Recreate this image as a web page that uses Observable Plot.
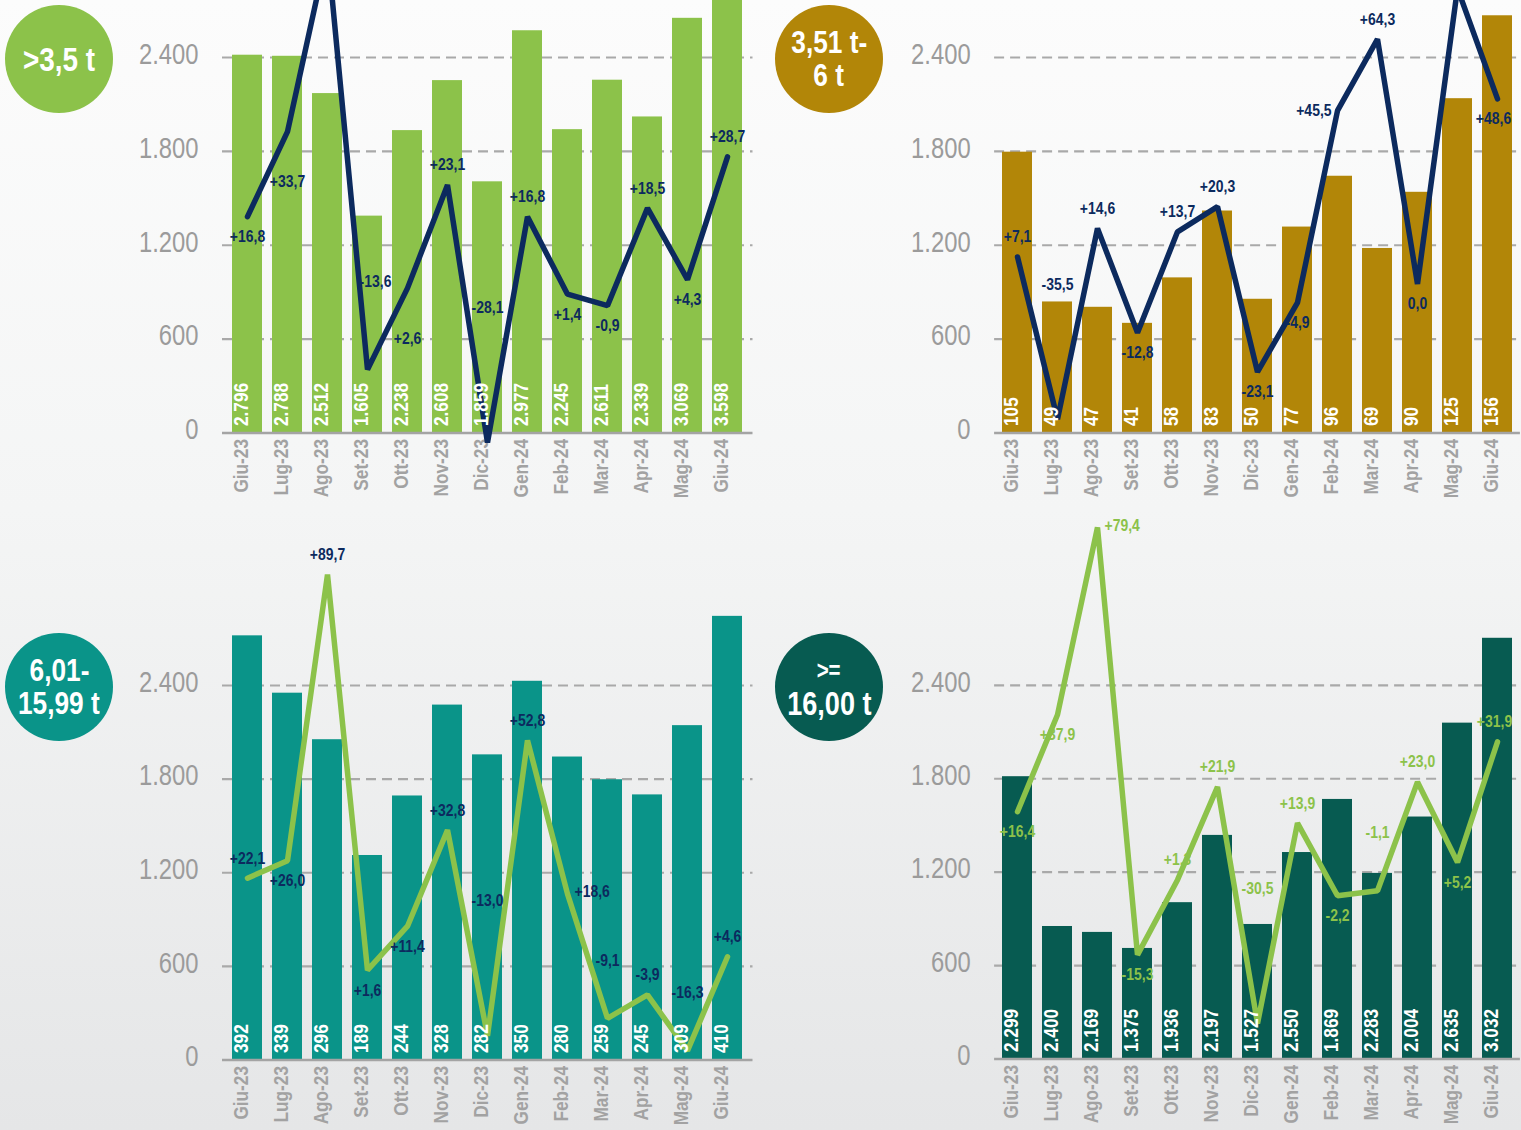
<!DOCTYPE html>
<html><head><meta charset="utf-8">
<script src="https://cdn.jsdelivr.net/npm/d3@7"></script>
<script src="https://cdn.jsdelivr.net/npm/@observablehq/plot@0.6"></script>
<style>
html,body{margin:0;padding:0;}
body{width:1521px;height:1130px;overflow:hidden;position:relative;
  background:linear-gradient(180deg,#fcfcfc 0%,#f4f5f5 45%,#e5e6e7 100%);
  font-family:'Liberation Sans',Arial,sans-serif;}
.panel{position:absolute;}
.panel svg{position:absolute;left:0;top:0;max-width:none;}
.badge{position:absolute;width:108px;height:108px;border-radius:50%;color:#fff;font-weight:bold;
  display:flex;flex-direction:column;align-items:center;justify-content:center;text-align:center;}
.badge span{display:block;white-space:nowrap;transform:scaleX(0.82);line-height:33px;}
</style></head><body>
<script>
// ---------- data ----------
const months = ["Giu-23","Lug-23","Ago-23","Set-23","Ott-23","Nov-23","Dic-23","Gen-24","Feb-24","Mar-24","Apr-24","Mag-24","Giu-24"];
const yTicks = [0, 600, 1200, 1800, 2400];

// >3,5 t
const light = [2796, 2788, 2512, 1605, 2238, 2608, 1859, 2977, 2245, 2611, 2339, 3069, 3598];
const lightChange = [16.8, 33.7, 70.0, -13.6, 2.6, 23.1, -28.1, 16.8, 1.4, -0.9, 18.5, 4.3, 28.7]; // Ago-23 off the top (estimated)
const lightPlace = ["b","B","-","m","B","a","A","a","b","b","a","b","a"];

// 3,51 t - 6 t
const medium = [105, 49, 47, 41, 58, 83, 50, 77, 96, 69, 90, 125, 156];
const mediumChange = [7.1, -35.5, 14.6, -12.8, 13.7, 20.3, -23.1, -4.9, 45.5, 64.3, 0.0, 77.6, 48.6]; // Mag-24 off the top (estimated)
const mediumPlace = ["a","A","a","b","a","a","b","b","l","a","b","-","f"];

// 6,01 - 15,99 t
const heavy = [392, 339, 296, 189, 244, 328, 282, 350, 280, 259, 245, 309, 410];
const heavyChange = [22.1, 26.0, 89.7, 1.6, 11.4, 32.8, -13.0, 52.8, 18.6, -9.1, -3.9, -16.3, 4.6];
const heavyPlace = ["a","b","a","b","b","a","A","a","r","h","a","h","a"];

// >= 16,00 t  (labels in tonnes; bar heights as drawn, read on the axis)
const xl = [2299, 2400, 2169, 1375, 1936, 2197, 1527, 2550, 1869, 2283, 2004, 2635, 3032];
const xlBarHeight = [1813, 851, 813, 710, 1004, 1436, 864, 1326, 1667, 1192, 1554, 2157, 2702];
const xlChange = [16.4, 37.9, 79.4, -15.3, 1.3, 21.9, -30.5, 13.9, -2.2, -1.1, 23.0, 5.2, 31.9];
const xlPlace = ["b","b","r","b","a","a","A","a","b","h","a","b","e"];

// ---------- helpers ----------
const FONT = "'Liberation Sans',Arial,sans-serif";
const NARROW = 0.82;
const it = d3.formatLocale({decimal: ",", thousands: ".", grouping: [3], currency: ["", "€"], minus: "-"});
const fmtInt = it.format(",d");
const fmtPct = v => v === 0 ? it.format(".1f")(v) : it.format("+.1f")(v);

const NAVY = "#0c2a5e", GREEN = "#8cc24a";
const offsets = {
  a: {dy: -20}, b: {dy: 20}, B: {dy: 50}, h: {dy: -58}, m: {dy: -88, dx: 8}, A: {dy: -135},
  e: {dy: -20, dx: -3}, f: {dy: 20, dx: -4},
  r: {dx: 7, dy: -2, textAnchor: "start"}, l: {dx: -6, textAnchor: "end"}
};

// condensed look: squeeze every text along its own baseline (after it is in the page)
function condense(svg) {
  svg.querySelectorAll("text").forEach(t => {
    const L = t.getComputedTextLength();
    if (L > 0) {
      t.setAttribute("textLength", (L * NARROW).toFixed(2));
      t.setAttribute("lengthAdjust", "spacingAndGlyphs");
    }
  });
}

function panel(cfg) {
  const div = document.createElement("div");
  div.className = "panel";
  div.style.left = cfg.left + "px"; div.style.top = cfg.top + "px";
  div.style.width = cfg.width + "px"; div.style.height = cfg.height + "px";
  document.body.appendChild(div);

  const rows = months.map((m, i) => ({
    month: m, bar: cfg.bars[i], barText: cfg.barText[i], change: cfg.change[i], place: cfg.place[i]
  }));

  const common = {
    width: cfg.width, height: cfg.height,
    marginLeft: cfg.ml, marginRight: cfg.mr, marginTop: 0, marginBottom: cfg.height - cfg.baseY,
    x: {type: "band", domain: months, paddingInner: 0.258, paddingOuter: 0.12, axis: null},
    style: {background: "transparent", fontFamily: FONT, overflow: "hidden"}
  };

  // layer 1: grid, y tick labels, month labels
  const axisLayer = Plot.plot({
    ...common,
    y: {domain: [0, 2400], range: [cfg.baseY, cfg.gridY], axis: null},
    marks: [
      Plot.ruleY(yTicks.filter(d => d > 0), {stroke: "#a9a9a9", strokeWidth: 2.2, strokeDasharray: "10,6"}),
      Plot.text(yTicks, {y: d => d, frameAnchor: "left", text: d => fmtInt(d), textAnchor: "end",
        dx: -24, dy: -3, fontSize: 29, fill: "#9b9b9b"}),
      Plot.text(months, {x: d => d, frameAnchor: "bottom", text: d => d, rotate: -90, textAnchor: "end",
        dy: 6, fontSize: 21, fontWeight: "bold", fill: "#a2a2a2"})
    ]
  });

  // layer 2: bars
  const barLayer = Plot.plot({
    ...common,
    y: {domain: [0, cfg.barAt2400], range: [cfg.baseY, cfg.gridY], axis: null},
    marks: [
      Plot.barY(rows, {x: "month", y: "bar", fill: cfg.barColor}),
      Plot.ruleY([0], {stroke: "#a4a4a4", strokeWidth: 2.5})
    ]
  });

  // layer 3: change line, its labels, bar value labels
  const labelMarks = Object.keys(offsets).map(code =>
    Plot.text(rows.filter(d => d.place === code), {
      x: "month", y: "change", text: d => fmtPct(d.change),
      fill: cfg.labelColor, fontSize: 17, fontWeight: "bold", ...offsets[code]
    }));
  const lineLayer = Plot.plot({
    ...common,
    y: {domain: [0, 50], range: cfg.lineRange, axis: null},
    marks: [
      Plot.line(rows, {x: "month", y: "change", stroke: cfg.lineColor, strokeWidth: 5.5,
        strokeLinejoin: "miter", strokeLinecap: "round"}),
      ...labelMarks,
      Plot.text(rows, {x: "month", frameAnchor: "bottom", text: d => fmtInt(d.barText), rotate: -90,
        textAnchor: "start", dy: -7, fill: "#ffffff", fontSize: 21, fontWeight: "bold"})
    ]
  });

  [axisLayer, barLayer, lineLayer].forEach(svg => { div.appendChild(svg); condense(svg); });
}

panel({left: 0, top: 0, width: 760, height: 520, ml: 222, mr: 7.5, baseY: 432.5, gridY: 57,
  bars: light, barText: light, barAt2400: 2779, barColor: "#8cc24a",
  change: lightChange, place: lightPlace, lineColor: NAVY, labelColor: NAVY,
  lineRange: [300.7, 49.2]});

panel({left: 770, top: 0, width: 751, height: 520, ml: 224.1, mr: 1.1, baseY: 432.5, gridY: 57,
  bars: medium, barText: medium, barAt2400: 140.4, barColor: "#b28608",
  change: mediumChange, place: mediumPlace, lineColor: NAVY, labelColor: NAVY,
  lineRange: [283.5, 93.05]});

panel({left: 0, top: 505, width: 760, height: 625, ml: 222, mr: 7.5, baseY: 554.5, gridY: 180,
  bars: heavy, barText: heavy, barAt2400: 346.1, barColor: "#0a9489",
  change: heavyChange, place: heavyPlace, lineColor: GREEN, labelColor: NAVY,
  lineRange: [471.9, 247.4]});

panel({left: 770, top: 505, width: 751, height: 625, ml: 224.1, mr: 1.1, baseY: 553.5, gridY: 179.8,
  bars: xlBarHeight, barText: xl, barAt2400: 2400, barColor: "#075b51",
  change: xlChange, place: xlPlace, lineColor: GREEN, labelColor: GREEN,
  lineRange: [380.3, 154.6]});

// ---------- badges ----------
const badges = [
  {left: 5, top: 5, color: "#8cc24a", lines: [">3,5 t"], sizes: [34]},
  {left: 775, top: 5, color: "#b28608", lines: ["3,51 t-", "6 t"], sizes: [32, 32]},
  {left: 5, top: 633, color: "#0a9489", lines: ["6,01-", "15,99 t"], sizes: [32, 32]},
  {left: 775, top: 633, color: "#075b51", lines: [">=", "16,00 t"], sizes: [25, 33]}
];
badges.forEach(b => {
  const d = document.createElement("div");
  d.className = "badge";
  d.style.left = b.left + "px"; d.style.top = b.top + "px"; d.style.background = b.color;
  b.lines.forEach((t, i) => {
    const s = document.createElement("span");
    s.textContent = t; s.style.fontSize = b.sizes[i] + "px";
    d.appendChild(s);
  });
  document.body.appendChild(d);
});
</script>
</body></html>
